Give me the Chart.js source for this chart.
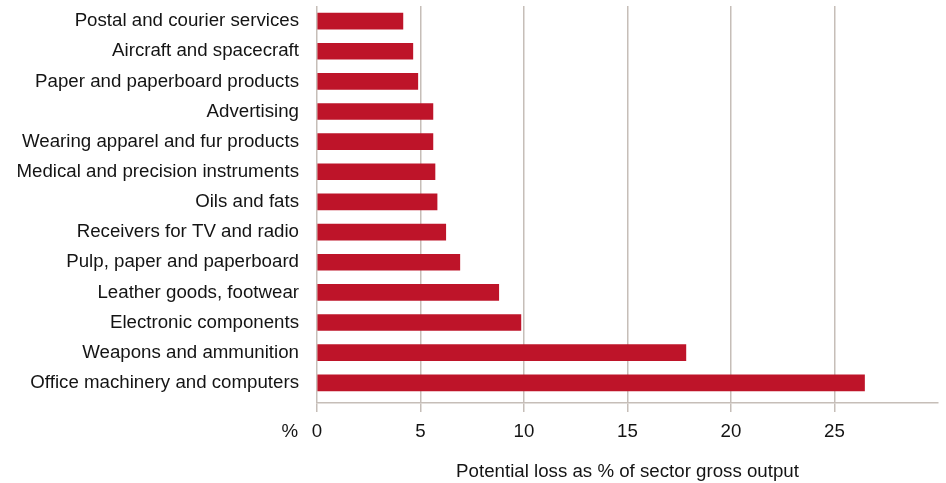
<!DOCTYPE html>
<html>
<head>
<meta charset="utf-8">
<script src="https://cdn.jsdelivr.net/npm/chart.js@4/dist/chart.umd.min.js"></script>
<style>
  html, body { margin: 0; padding: 0; background: #fff; }
  #wrap { width: 946px; height: 483px; position: relative; }
</style>
</head>
<body>
<div id="wrap"><canvas id="lossChart"></canvas></div>
<script>
const sectors = [
    'Postal and courier services',
    'Aircraft and spacecraft',
    'Paper and paperboard products',
    'Advertising',
    'Wearing apparel and fur products',
    'Medical and precision instruments',
    'Oils and fats',
    'Receivers for TV and radio',
    'Pulp, paper and paperboard',
    'Leather goods, footwear',
    'Electronic components',
    'Weapons and ammunition',
    'Office machinery and computers'
];
const lossPct = [4.15, 4.63, 4.87, 5.6, 5.6, 5.7, 5.8, 6.22, 6.9, 8.78, 9.85, 17.82, 26.45];
const xTicks = [0, 5, 10, 15, 20, 25];

const FONT = "'Liberation Sans', Arial, Helvetica, sans-serif";
const FSIZE = 18.7;
const TEXT = '#141414';
const GRID = '#c6beb8';
const BAR = '#be1429';

// "%" unit label sitting left of the 0 tick
const unitLabel = {
    id: 'unitLabel',
    afterDraw(chart) {
        const { ctx, scales: { x } } = chart;
        const yPos = x.top + 29;
        ctx.save();
        ctx.font = `${FSIZE}px ${FONT}`;
        ctx.fillStyle = TEXT;
        ctx.textAlign = 'right';
        ctx.textBaseline = 'middle';
        ctx.fillText('%', 298, yPos);
        ctx.restore();
    }
};

new Chart(document.getElementById('lossChart'), {
    type: 'bar',
    data: {
        labels: sectors,
        datasets: [{
            data: lossPct,
            backgroundColor: BAR,
            borderWidth: 0,
            barThickness: 16
        }]
    },
    options: {
        indexAxis: 'y',
        responsive: true,
        maintainAspectRatio: false,
        animation: false,
        layout: { padding: { top: 6, right: 8, left: 0, bottom: 0 } },
        plugins: {
            legend: { display: false },
            tooltip: { enabled: false }
        },
        scales: {
            x: {
                min: 0,
                max: 30,
                afterBuildTicks: s => { s.ticks = xTicks.concat([30]).map(v => ({ value: v })); },
                afterFit: s => { s.height = 80; s.paddingLeft = 0; s.paddingRight = 0; },
                grid: {
                    color: c => (c.tick && c.tick.value === 30 ? 'rgba(0,0,0,0)' : GRID),
                    lineWidth: 1.5,
                    tickLength: 9
                },
                border: { color: GRID, width: 1.5 },
                ticks: {
                    color: TEXT,
                    font: { family: FONT, size: FSIZE },
                    padding: 9,
                    maxRotation: 0,
                    callback: v => (xTicks.includes(v) ? String(v) : '')
                },
                title: {
                    display: true,
                    text: 'Potential loss as % of sector gross output',
                    color: TEXT,
                    font: { family: FONT, size: FSIZE },
                    padding: { top: 4, bottom: 0 }
                }
            },
            y: {
                // leave a little extra room below the last bar, above the axis line
                afterBuildTicks: s => { s._valueRange += 0.17; },
                afterFit: s => { s.width = 317; s.paddingTop = 0; s.paddingBottom = 0; },
                grid: { display: false, drawTicks: false },
                border: { display: false },
                ticks: {
                    color: TEXT,
                    font: { family: FONT, size: FSIZE },
                    padding: 18,
                    autoSkip: false
                }
            }
        }
    },
    plugins: [unitLabel]
});
</script>
</body>
</html>
